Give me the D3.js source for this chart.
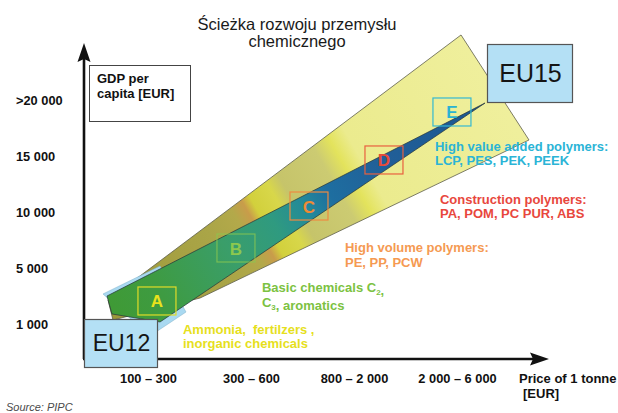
<!DOCTYPE html>
<html>
<head>
<meta charset="utf-8">
<script src="https://cdn.jsdelivr.net/npm/d3@7"></script>
<style>
  body { margin: 0; background: #fff; }
  svg { display: block; font-family: "Liberation Sans", Arial, sans-serif; }
</style>
</head>
<body>
<div id="chart"></div>
<script>
// dane
const titleLines = ["Ścieżka rozwoju przemysłu", "chemicznego"];
const priceLabels = ["100 – 300", "300 – 600", "800 – 2 000", "2 000 – 6 000"];
const gdpLabels = ["1 000", "5 000", "10 000", "15 000", ">20 000"];
// ribbon outlines in category units (x = price class index, y = GDP class index)
const outerBand = [[-0.388, 0.429], [3.039, 5.161], [3.699, 3.286], [0.505, 0.464], [-0.34, 0.071]];
const startBand = [[-0.437, 0.536], [0.117, 1.036], [0.369, 0.214], [0.019, -0.214]];
const innerBand = [[-0.398, 0.5], [3.272, 3.946], [0.117, 0.036], [-0.35, 0.179]];
const stages = ["A", "B", "C", "D", "E"];
const stageX = [0.087, 0.854, 1.563, 2.291, 2.951];
const stageY = [0.411, 1.357, 2.107, 2.929, 3.786];
const stageText = [
  ["Ammonia,  fertilzers ,", "inorganic chemicals"],
  ["Basic chemicals C_2,", "C_3, aromatics"],
  ["High volume polymers:", "PE, PP, PCW"],
  ["Construction polymers:", "PA, POM, PC PUR, ABS"],
  ["High value added polymers:", "LCP, PES, PEK, PEEK"]
];

// kolory / uklad
const stageColor = ["#e6e01c", "#7cc242", "#f59a52", "#e8473d", "#2bb4d6"];
const letterColor = ["#e8e21c", "#8cc84e", "#f08a35", "#e84a3a", "#2ab2d2"];
const boxStroke = ["#e0dc28", "rgba(140,200,80,0.75)", "#ee8a40", "#e8603f", "#34b8d2"];
const labelOffset = [[26, 33], [26, 44], [36, 46], [56, 44], [-17, 39]];

const W = 618, H = 413;
const svg = d3.select("#chart").append("svg")
  .attr("width", W).attr("height", H)
  .attr("viewBox", `0 0 ${W} ${H}`);

// skale
const x = d3.scalePoint().domain(priceLabels).range([148, 457]);
const y = d3.scalePoint().domain(gdpLabels).range([324, 100]);
const xi = d3.scaleLinear().domain([0, priceLabels.length - 1]).range(x.range());
const yi = d3.scaleLinear().domain([0, gdpLabels.length - 1]).range(y.range());
const line = d3.line().x(d => xi(d[0])).y(d => yi(d[1])).curve(d3.curveLinearClosed);

// gradienty wzdluz wstegi
const defs = svg.append("defs");
const addGrad = (id, stops) => {
  const g = defs.append("linearGradient").attr("id", id)
    .attr("gradientUnits", "userSpaceOnUse")
    .attr("x1", 110).attr("y1", 310).attr("x2", 495).attr("y2", 90);
  stops.forEach(s => g.append("stop").attr("offset", s[0]).attr("stop-color", s[1]));
};
addGrad("outerGrad", [
  [0, "#9d983a"], [0.28, "#aaa547"], [0.35, "#b3a94a"], [0.38, "#c99c4a"],
  [0.40, "#d2d03c"], [0.45, "#d8d74a"], [0.48, "#c6c46a"], [0.58, "#cccb72"],
  [0.62, "#e3e35c"], [0.66, "#ebeb8e"], [1, "#efef9c"]
]);
addGrad("innerGrad", [
  [0, "#3f9a35"], [0.12, "#3e9b42"], [0.3, "#3a9e6a"], [0.42, "#2f9a80"],
  [0.5, "#23899a"], [0.56, "#1e6ea0"], [0.7, "#215f98"], [1, "#1b5690"]
]);

// wstegi
svg.append("path").attr("d", line(outerBand))
  .attr("fill", "url(#outerGrad)").attr("stroke", "#5d5d48").attr("stroke-width", 0.8);
svg.append("path").attr("d", line(startBand))
  .attr("fill", "#a9d9f1").attr("stroke", "#7fb0c8").attr("stroke-width", 0.5);
svg.append("path").attr("d", line(innerBand))
  .attr("fill", "url(#innerGrad)").attr("stroke", "#24343a").attr("stroke-width", 0.7);

// etapy A-E
const st = svg.append("g").selectAll("g").data(stages).join("g")
  .attr("transform", (d, i) => `translate(${xi(stageX[i])},${yi(stageY[i])})`);
st.append("rect")
  .attr("x", -19).attr("y", -14).attr("width", 38).attr("height", 28)
  .attr("fill", "none").attr("stroke", (d, i) => boxStroke[i]).attr("stroke-width", 1.2);
st.append("text")
  .attr("text-anchor", "middle").attr("y", 6.5)
  .attr("font-size", 17).attr("font-weight", "bold")
  .attr("fill", (d, i) => letterColor[i])
  .text(d => d);

// opisy etapow (z indeksami dolnymi)
const addRich = (sel, str) => {
  str.split(/_(\d)/).forEach((part, k) => {
    if (k % 2 === 1) {
      sel.append("tspan").attr("dy", 3).attr("font-size", 8).text(part);
      sel.append("tspan").attr("dy", -3).text("");
    } else if (part) {
      sel.append("tspan").text(part);
    }
  });
};
stageText.forEach((lines, i) => {
  const cx = xi(stageX[i]) + labelOffset[i][0];
  const cy = yi(stageY[i]) + labelOffset[i][1];
  lines.forEach((ln, j) => {
    const t = svg.append("text")
      .attr("x", cx).attr("y", cy + j * 14.5)
      .attr("font-size", 13).attr("font-weight", "bold")
      .attr("fill", stageColor[i])
      .style("white-space", "pre");
    addRich(t, ln);
  });
});

// osie
const axisCol = "#111";
svg.append("line").attr("x1", 84).attr("y1", 359).attr("x2", 84).attr("y2", 55)
  .attr("stroke", axisCol).attr("stroke-width", 2.6);
svg.append("path").attr("d", "M84,43 L77.5,62 L84,59 L90.5,62 Z").attr("fill", axisCol);
svg.append("line").attr("x1", 83).attr("y1", 359).attr("x2", 540).attr("y2", 359)
  .attr("stroke", axisCol).attr("stroke-width", 2.6);
svg.append("path").attr("d", "M549,359 L530,352.5 L533,359 L530,365.5 Z").attr("fill", axisCol);

const gx = svg.append("g").attr("transform", "translate(0,371)")
  .call(d3.axisBottom(x).tickSize(0));
gx.select(".domain").remove();
gx.selectAll("text").attr("font-size", 12.8).attr("font-weight", "bold")
  .attr("font-family", "Liberation Sans, Arial, sans-serif").attr("fill", "#111");

const gy = svg.append("g").attr("transform", "translate(16,0)")
  .call(d3.axisLeft(y).tickSize(0));
gy.select(".domain").remove();
gy.selectAll("text").attr("x", 0).attr("text-anchor", "start")
  .attr("font-size", 12.8).attr("font-weight", "bold")
  .attr("font-family", "Liberation Sans, Arial, sans-serif").attr("fill", "#111");

svg.append("text").attr("x", 519).attr("y", 383)
  .attr("font-size", 13).attr("font-weight", "bold").attr("fill", "#111")
  .text("Price of 1 tonne");
svg.append("text").attr("x", 523).attr("y", 398)
  .attr("font-size", 13).attr("font-weight", "bold").attr("fill", "#111")
  .text("[EUR]");

// ramka GDP
svg.append("rect").attr("x", 89.5).attr("y", 65.5).attr("width", 101).attr("height", 56)
  .attr("fill", "#fff").attr("stroke", "#444").attr("stroke-width", 1);
["GDP per", "capita [EUR]"].forEach((s, j) => {
  svg.append("text").attr("x", 97).attr("y", 83 + j * 14.5)
    .attr("font-size", 13).attr("font-weight", "bold").attr("fill", "#111").text(s);
});

// EU12 / EU15
const euBoxes = [
  { label: "EU12", x: 84, y: 319, w: 73, h: 48, fs: 23 },
  { label: "EU15", x: 487, y: 44, w: 85, h: 58, fs: 25 }
];
euBoxes.forEach(b => {
  svg.append("rect").attr("x", b.x + 0.5).attr("y", b.y + 0.5).attr("width", b.w).attr("height", b.h)
    .attr("fill", "#b4e0f5").attr("stroke", "#555").attr("stroke-width", 1.2);
  svg.append("text").attr("x", b.x + b.w / 2 + 1).attr("y", b.y + b.h / 2 + b.fs * 0.36)
    .attr("text-anchor", "middle").attr("font-size", b.fs).attr("fill", "#151515").text(b.label);
});

// tytul
titleLines.forEach((s, j) => {
  svg.append("text").attr("x", 297).attr("y", 30 + j * 17)
    .attr("text-anchor", "middle").attr("font-size", 16.5).attr("fill", "#1a1a1a").text(s);
});

// zrodlo
svg.append("text").attr("x", 6).attr("y", 411)
  .attr("font-size", 11).attr("font-style", "italic").attr("fill", "#4a4a4a")
  .text("Source: PIPC");
</script>
</body>
</html>
